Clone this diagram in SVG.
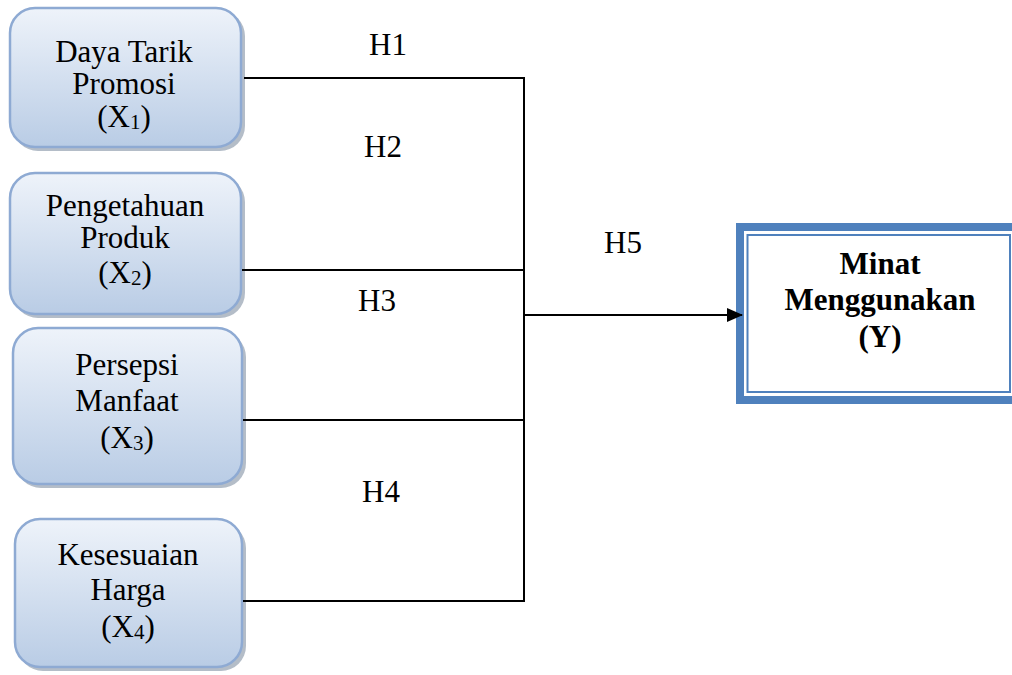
<svg xmlns="http://www.w3.org/2000/svg" width="1012" height="675" viewBox="0 0 1012 675">
<style>
.box{fill:url(#g);stroke:#8eaad3;stroke-width:2.5}
.sh{fill:#9ba7b6;opacity:0.75}
.t{font-family:"Liberation Serif","Times New Roman",serif;font-size:31px;fill:#000;text-anchor:middle}
.h{font-family:"Liberation Serif","Times New Roman",serif;font-size:31px;fill:#000}
.b{font-weight:bold}
.sub{font-size:21px}
.ln{stroke:#000;stroke-width:2;fill:none}
</style>
<defs>
<linearGradient id="g" x1="0" y1="0" x2="0" y2="1">
<stop offset="0" stop-color="#eef3fa"/>
<stop offset="1" stop-color="#b9cce5"/>
</linearGradient>
<marker id="arr" markerWidth="16" markerHeight="14" refX="15" refY="7" orient="auto" markerUnits="userSpaceOnUse">
<path d="M0,0 L16,7 L0,14 Z" fill="#000"/>
</marker>
</defs>

<g id="x1">
<rect class="sh" x="13" y="11" width="232" height="140" rx="25"/>
<rect class="box" x="10" y="8" width="231" height="139" rx="25"/>
<text class="t" x="124" y="62">Daya Tarik</text>
<text class="t" x="124" y="94">Promosi</text>
<text class="t" x="124" y="127">(X<tspan class="sub" dy="2">1</tspan><tspan dy="-2">)</tspan></text>
</g>

<g id="x2">
<rect class="sh" x="13" y="177" width="232" height="141" rx="25"/>
<rect class="box" x="10" y="173" width="231" height="141" rx="25"/>
<text class="t" x="125" y="216">Pengetahuan</text>
<text class="t" x="125" y="248">Produk</text>
<text class="t" x="125" y="283">(X<tspan class="sub" dy="2">2</tspan><tspan dy="-2">)</tspan></text>
</g>

<g id="x3">
<rect class="sh" x="16" y="332" width="230" height="156" rx="25"/>
<rect class="box" x="13" y="328" width="229" height="156" rx="25"/>
<text class="t" x="127" y="375">Persepsi</text>
<text class="t" x="127" y="411">Manfaat</text>
<text class="t" x="127" y="448">(X<tspan class="sub" dy="2">3</tspan><tspan dy="-2">)</tspan></text>
</g>

<g id="x4">
<rect class="sh" x="18" y="523" width="228" height="148" rx="25"/>
<rect class="box" x="15" y="519" width="227" height="148" rx="25"/>
<text class="t" x="128" y="565">Kesesuaian</text>
<text class="t" x="128" y="600">Harga</text>
<text class="t" x="128" y="637">(X<tspan class="sub" dy="2">4</tspan><tspan dy="-2">)</tspan></text>
</g>

<g id="y">
<rect x="740" y="227" width="290" height="173" fill="#fff" stroke="#4f81bd" stroke-width="8"/>
<rect x="747.5" y="235" width="262.5" height="157" fill="none" stroke="#4f81bd" stroke-width="2"/>
<text class="t b" x="880" y="274">Minat</text>
<text class="t b" x="880" y="310">Menggunakan</text>
<text class="t b" x="880" y="347">(Y)</text>
</g>

<g id="connectors">
<line class="ln" x1="244" y1="78" x2="525" y2="78"/>
<line class="ln" x1="242" y1="270" x2="524" y2="270"/>
<line class="ln" x1="243" y1="420" x2="524" y2="420"/>
<line class="ln" x1="243" y1="601" x2="525" y2="601"/>
<line class="ln" x1="524" y1="77" x2="524" y2="602"/>
<line class="ln" x1="524" y1="315" x2="742" y2="315" marker-end="url(#arr)"/>
<text class="h" x="369" y="55">H1</text>
<text class="h" x="364" y="157">H2</text>
<text class="h" x="358" y="311">H3</text>
<text class="h" x="362" y="502">H4</text>
<text class="h" x="604" y="253">H5</text>
</g>
</svg>
